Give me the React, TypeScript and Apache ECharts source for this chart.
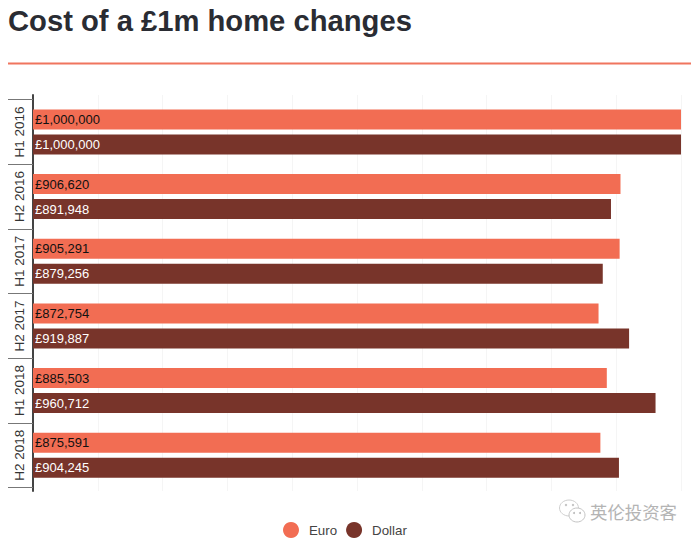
import React, { useEffect, useRef } from "react";
import * as echarts from "echarts";

const TITLE = "Cost of a £1m home changes";
const periods = ["H1 2016", "H2 2016", "H1 2017", "H2 2017", "H1 2018", "H2 2018"];
const euro = [1000000, 906620, 905291, 872754, 885503, 875591];
const dollar = [1000000, 891948, 879256, 919887, 960712, 904245];
const WATERMARK = "英伦投资客";

const FONT = '"Liberation Sans", Arial, sans-serif';
const GRID_LEFT = 33;
const GRID_RIGHT = 19;

const fmt = (v: number) => "£" + v.toLocaleString("en-GB");

export default function App() {
  const ref = useRef<HTMLDivElement>(null);
  useEffect(() => {
    const chart = echarts.init(ref.current!, null, { renderer: "svg" });
    const barLabel = (color: string) => ({
      show: true,
      position: "insideLeft" as const,
      distance: 2,
      color,
      fontFamily: FONT,
      fontSize: 13,
      formatter: (p: any) => fmt(p.value),
    });
    chart.setOption({
      animation: false,
      backgroundColor: "#ffffff",
      textStyle: { fontFamily: FONT },
      legend: {
        data: [{ name: "Euro" }, { name: "Dollar" }],
        icon: "circle",
        left: 278,
        top: 517,
        itemWidth: 16,
        itemHeight: 16,
        itemGap: 9,
        textStyle: { fontFamily: FONT, fontSize: 13.3, color: "#444444", padding: [0, 0, 0, 5] },
      },
      grid: [
        { left: GRID_LEFT, right: GRID_RIGHT, top: 95, bottom: 52 },
        { left: GRID_LEFT, right: GRID_RIGHT, top: 99.6, bottom: 55.4 },
      ],
      xAxis: [
        {
          gridIndex: 0,
          type: "value",
          min: 0,
          max: 1000000,
          interval: 100000,
          axisLine: { show: false },
          axisTick: { show: false },
          axisLabel: { show: false },
          splitLine: { show: true, lineStyle: { color: "#f5f5f5", width: 1 } },
        },
        {
          gridIndex: 1,
          type: "value",
          min: 0,
          max: 1000000,
          show: false,
        },
      ],
      yAxis: [
        {
          gridIndex: 0,
          type: "value",
          min: 0,
          max: 1,
          axisLine: { show: true, lineStyle: { color: "#444444", width: 2 } },
          axisTick: { show: false },
          axisLabel: { show: false },
          splitLine: { show: false },
        },
        {
          gridIndex: 1,
          type: "category",
          inverse: true,
          data: periods,
          axisLine: { show: false },
          axisTick: { show: true, interval: 0, length: 25, lineStyle: { color: "#777777", width: 1 } },
          axisLabel: {
            rotate: 90,
            interval: 0,
            hideOverlap: false,
            margin: 7,
            color: "#333333",
            fontFamily: FONT,
            fontSize: 13.5,
          },
          splitLine: { show: false },
        },
      ],
      series: [
        {
          name: "Euro",
          type: "bar",
          xAxisIndex: 1,
          yAxisIndex: 1,
          data: euro,
          barWidth: 20,
          barGap: "25%",
          itemStyle: { color: "#f26d53" },
          label: barLabel("#111111"),
        },
        {
          name: "Dollar",
          type: "bar",
          xAxisIndex: 1,
          yAxisIndex: 1,
          data: dollar,
          barWidth: 20,
          barGap: "25%",
          itemStyle: { color: "#78342a" },
          label: barLabel("#ffffff"),
        },
      ],
      graphic: [
        {
          type: "text",
          left: 8,
          top: 6,
          style: { text: TITLE, fontFamily: FONT, fontWeight: "bold", fontSize: 29.2, fill: "#2a2c33" },
        },
        {
          type: "line",
          shape: { x1: 8, y1: 63.5, x2: 691, y2: 63.5 },
          style: { stroke: "#f0755e", lineWidth: 2 },
        },
        {
          type: "group",
          silent: true,
          children: [
            { type: "ellipse", shape: { cx: 569, cy: 508, rx: 9.5, ry: 8 }, style: { fill: "#fff", stroke: "#cfcfcf", lineWidth: 1 } },
            { type: "ellipse", shape: { cx: 577, cy: 515, rx: 8, ry: 7 }, style: { fill: "#fff", stroke: "#c4c4c4", lineWidth: 1 } },
            { type: "circle", shape: { cx: 566, cy: 505, r: 1.2 }, style: { fill: "#c4c4c4" } },
            { type: "circle", shape: { cx: 573, cy: 505, r: 1.2 }, style: { fill: "#c4c4c4" } },
            { type: "circle", shape: { cx: 574, cy: 513, r: 1 }, style: { fill: "#bbb" } },
            { type: "circle", shape: { cx: 580, cy: 513, r: 1 }, style: { fill: "#bbb" } },
          ],
        },
        {
          type: "text",
          left: 590,
          top: 503,
          style: { text: WATERMARK, fontFamily: '"Noto Sans CJK SC"', fontSize: 17.4, fill: "#b4b4b4" },
        },
      ],
    });
    return () => chart.dispose();
  }, []);
  return (
    <div
      ref={ref}
      style={{ position: "fixed", left: 0, top: 0, width: 700, height: 543 }}
    />
  );
}
